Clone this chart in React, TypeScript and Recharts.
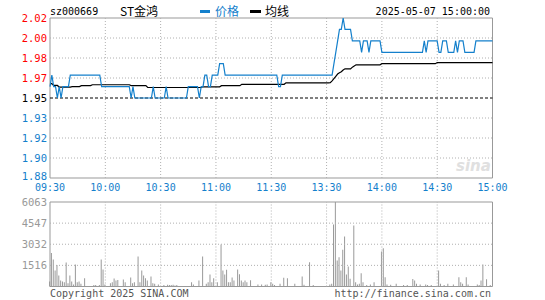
import React from 'react';
import { LineChart, Line, XAxis, YAxis, ReferenceLine, ReferenceArea, BarChart, Bar } from 'recharts';

const BLUE = '#1480cc';
const RED = '#ff0000';
const GRID = '#b0b0b0';
const FRAME = '#999999';
const MONO = 'DejaVu Sans Mono';
const CJK = 'Noto Sans CJK SC';

const stockCode = 'sz000669';
const stockName = 'ST金鸿';
const timeStamp = '2025-05-07 15:00:00';

const timeTicks = [0, 30, 60, 90, 120, 150, 180, 210, 240];
const timeLabels = ['09:30', '10:00', '10:30', '11:00', '11:30', '13:30', '14:00', '14:30', '15:00'];
const priceTicks = [1.88, 1.8975, 1.915, 1.9325, 1.95, 1.9675, 1.985, 2.0025, 2.02];
const priceLabels = ['1.88', '1.90', '1.92', '1.93', '1.95', '1.97', '1.98', '2.00', '2.02'];
const pctLabels = ['-3.59%', '-2.69%', '-1.79%', '-0.90%', '0.00%', '+0.90%', '+1.79%', '+2.69%', '+3.59%'];
const prevClose = 1.95;
const volTicks = [1516, 3032, 4547, 6063];
const volLabels = ['1516', '3032', '4547', '6063'];
const volMax = 6063;

const price: number[] = [
  1.96, 1.97, 1.96, 1.96, 1.95, 1.96, 1.95, 1.96, 1.96, 1.96,
  1.96, 1.97, 1.97, 1.97, 1.97, 1.97, 1.97, 1.97, 1.97, 1.97,
  1.97, 1.97, 1.97, 1.97, 1.97, 1.97, 1.97, 1.97, 1.96, 1.96,
  1.96, 1.96, 1.96, 1.96, 1.96, 1.96, 1.96, 1.96, 1.96, 1.96,
  1.96, 1.96, 1.96, 1.96, 1.95, 1.96, 1.95, 1.95, 1.95, 1.95,
  1.95, 1.95, 1.95, 1.95, 1.95, 1.95, 1.96, 1.95, 1.95, 1.95,
  1.95, 1.95, 1.95, 1.96, 1.95, 1.95, 1.95, 1.95, 1.95, 1.95,
  1.95, 1.95, 1.95, 1.95, 1.95, 1.96, 1.96, 1.96, 1.96, 1.96,
  1.96, 1.95, 1.96, 1.96, 1.97, 1.97, 1.96, 1.96, 1.97, 1.97,
  1.97, 1.97, 1.98, 1.98, 1.98, 1.97, 1.97, 1.97, 1.97, 1.97,
  1.97, 1.97, 1.97, 1.97, 1.97, 1.97, 1.97, 1.97, 1.97, 1.97,
  1.97, 1.97, 1.97, 1.97, 1.97, 1.97, 1.97, 1.97, 1.97, 1.97,
  1.97, 1.97, 1.97, 1.97, 1.96, 1.96, 1.97, 1.97, 1.97, 1.97,
  1.97, 1.97, 1.97, 1.97, 1.97, 1.97, 1.97, 1.97, 1.97, 1.97,
  1.97, 1.97, 1.97, 1.97, 1.97, 1.97, 1.97, 1.97, 1.97, 1.97,
  1.97, 1.97, 1.97, 1.97, 1.98, 1.99, 2.00, 2.01, 2.01, 2.02,
  2.01, 2.01, 2.01, 2.01, 2.00, 2.00, 2.00, 2.00, 2.00, 1.99,
  2.00, 2.00, 2.00, 1.99, 2.00, 2.00, 2.00, 2.00, 2.00, 2.00,
  1.99, 1.99, 1.99, 1.99, 1.99, 1.99, 1.99, 1.99, 1.99, 1.99,
  1.99, 1.99, 1.99, 1.99, 1.99, 1.99, 1.99, 1.99, 1.99, 1.99,
  1.99, 1.99, 1.99, 2.00, 1.99, 2.00, 2.00, 2.00, 2.00, 2.00,
  2.00, 1.99, 1.99, 2.00, 2.00, 2.00, 1.99, 1.99, 1.99, 1.99,
  2.00, 1.99, 2.00, 2.00, 2.00, 1.99, 1.99, 1.99, 1.99, 1.99,
  1.99, 2.00, 2.00, 2.00, 2.00, 2.00, 2.00, 2.00, 2.00, 2.00, 2.00,
];

const avgPrice: number[] = [
  1.9625, 1.9625, 1.961, 1.961, 1.961, 1.9596, 1.9596, 1.9596, 1.9596, 1.9596,
  1.9596, 1.9596, 1.96, 1.96, 1.96, 1.96, 1.96, 1.9608, 1.9608, 1.9608,
  1.9608, 1.9608, 1.9608, 1.9616, 1.9616, 1.9616, 1.9616, 1.9616, 1.9616, 1.9616,
  1.9616, 1.9616, 1.9616, 1.9616, 1.9616, 1.9616, 1.9616, 1.9616, 1.9616, 1.9616,
  1.9616, 1.9616, 1.9616, 1.9616, 1.9608, 1.9608, 1.9608, 1.9608, 1.9608, 1.9608,
  1.9608, 1.9608, 1.9608, 1.9592, 1.9592, 1.9592, 1.9592, 1.9592, 1.9592, 1.9592,
  1.9592, 1.9592, 1.9592, 1.9592, 1.9592, 1.9592, 1.9592, 1.9592, 1.9592, 1.9592,
  1.9592, 1.9592, 1.9592, 1.9592, 1.9592, 1.9592, 1.9592, 1.9592, 1.9592, 1.9592,
  1.9592, 1.9592, 1.9592, 1.9598, 1.9598, 1.9598, 1.9598, 1.9598, 1.9598, 1.9598,
  1.9598, 1.9598, 1.9598, 1.9608, 1.9608, 1.9608, 1.9608, 1.9608, 1.9608, 1.9608,
  1.9608, 1.9608, 1.9608, 1.9608, 1.962, 1.962, 1.962, 1.962, 1.962, 1.962,
  1.962, 1.962, 1.962, 1.962, 1.962, 1.962, 1.962, 1.962, 1.962, 1.962,
  1.962, 1.962, 1.962, 1.962, 1.962, 1.962, 1.962, 1.962, 1.9633, 1.9633,
  1.9633, 1.9633, 1.9633, 1.9633, 1.9633, 1.9633, 1.9633, 1.9633, 1.9633, 1.9633,
  1.9633, 1.9633, 1.9633, 1.9633, 1.9633, 1.9633, 1.9633, 1.9633, 1.9633, 1.9633,
  1.9633, 1.9633, 1.9635, 1.965, 1.967, 1.969, 1.971, 1.972, 1.973, 1.9745,
  1.9755, 1.9755, 1.9755, 1.9755, 1.977, 1.978, 1.979, 1.979, 1.979, 1.979,
  1.979, 1.979, 1.979, 1.979, 1.979, 1.979, 1.979, 1.979, 1.979, 1.979,
  1.98, 1.98, 1.98, 1.98, 1.98, 1.98, 1.98, 1.98, 1.98, 1.98,
  1.98, 1.98, 1.98, 1.98, 1.98, 1.98, 1.98, 1.98, 1.98, 1.98,
  1.98, 1.98, 1.98, 1.98, 1.98, 1.98, 1.98, 1.98, 1.98, 1.98,
  1.981, 1.981, 1.981, 1.981, 1.981, 1.981, 1.981, 1.981, 1.981, 1.981,
  1.981, 1.981, 1.981, 1.981, 1.981, 1.981, 1.981, 1.981, 1.981, 1.981,
  1.981, 1.981, 1.981, 1.981, 1.981, 1.981, 1.981, 1.981, 1.981, 1.981, 1.981,
];

const volume: number[] = [
  350, 2400, 1940, 1150, 1550, 790, 430, 360, 310, 1720,
  240, 790, 360, 150, 1570, 300, 350, 200, 0, 590,
  0, 0, 0, 0, 100, 100, 0, 100, 1940, 1220,
  150, 0, 0, 240, 300, 570, 430, 475, 0, 0,
  500, 300, 0, 0, 640, 240, 300, 0, 2150, 300,
  1150, 790, 600, 430, 0, 720, 240, 200, 0, 150,
  0, 0, 100, 0, 120, 100, 100, 120, 80, 100,
  0, 0, 0, 0, 0, 0, 0, 300, 150, 0,
  0, 430, 0, 2150, 0, 200, 300, 860, 300, 600,
  0, 300, 0, 3010, 1150, 860, 1200, 300, 300, 650,
  430, 0, 1220, 870, 430, 300, 430, 300, 0, 450,
  0, 0, 0, 150, 0, 150, 0, 120, 150, 0,
  300, 200, 100, 0, 0, 200, 0, 620, 0, 590,
  0, 0, 0, 200, 0, 0, 0, 720, 120, 0,
  0, 1740, 0, 100, 0, 0, 0, 0, 0, 0,
  0, 0, 150, 200, 4450, 6063, 1870, 2100, 1150, 2640,
  3590, 860, 1440, 550, 0, 4380, 300, 150, 200, 950,
  300, 0, 100, 0, 150, 0, 300, 0, 0, 0,
  2520, 2750, 660, 150, 0, 120, 0, 0, 200, 0,
  0, 0, 100, 0, 100, 0, 0, 530, 430, 200,
  0, 150, 0, 0, 150, 100, 0, 100, 0, 0,
  0, 1150, 200, 0, 100, 0, 200, 0, 0, 150,
  0, 0, 660, 300, 200, 0, 660, 150, 0, 0,
  0, 0, 150, 100, 430, 1570, 0, 520, 0, 100, 0,
];

const data = price.map((p, i) => ({ t: i, price: p, avg: avgPrice[i], vol: volume[i] }));
const innerTimes = timeTicks.slice(1, -1);
const innerPrices = priceTicks.filter((v, i) => i > 0 && i < priceTicks.length - 1 && v !== prevClose);

const tickColor = (i: number) => (i > 4 ? RED : i === 4 ? '#000000' : BLUE);

const LeftTick = (props: any) => {
  const { x, y, index } = props;
  const yy = index === 0 ? y - 1.5 : y;
  return (
    <text x={x} y={yy} dy="0.35em" textAnchor="end" fill={tickColor(index)} fontSize={10.5} fontFamily={MONO}>
      {priceLabels[index]}
    </text>
  );
};

const RightTick = (props: any) => {
  const { x, y, index } = props;
  const yy = index === 0 ? y - 1.5 : y;
  return (
    <text x={x} y={yy} dy="0.35em" textAnchor="start" fill={tickColor(index)} fontSize={10.5} fontFamily={MONO}>
      {pctLabels[index]}
    </text>
  );
};

const VolTick = (props: any) => {
  const { x, y, index } = props;
  return (
    <text x={x} y={y} dy="0.35em" textAnchor="end" fill="#999999" fontSize={10.5} fontFamily={MONO}>
      {volLabels[index]}
    </text>
  );
};

export default function App() {
  return (
    <div style={{ position: 'fixed', left: 0, top: 0, width: 545, height: 300, background: '#ffffff', overflow: 'hidden' }}>
      <div style={{ position: 'absolute', left: 0, top: 0 }}>
        <LineChart width={545} height={200} data={data} margin={{ top: 18, right: 0, bottom: 2, left: 0 }}>
          <XAxis
            dataKey="t"
            type="number"
            domain={[0, 240]}
            ticks={timeTicks}
            interval={0}
            tickFormatter={(v: number) => timeLabels[timeTicks.indexOf(v)]}
            axisLine={false}
            tickLine={false}
            tickSize={0}
            tickMargin={6}
            height={20}
            tick={{ fill: BLUE, fontSize: 10, fontFamily: MONO }}
          />
          <YAxis
            yAxisId="l"
            orientation="left"
            width={50}
            domain={[priceTicks[0], priceTicks[priceTicks.length - 1]]}
            ticks={priceTicks}
            interval={0}
            axisLine={false}
            tickLine={false}
            tickSize={0}
            tickMargin={3}
            tick={<LeftTick />}
          />
          <YAxis
            yAxisId="r"
            orientation="right"
            width={52.5}
            domain={[priceTicks[0], priceTicks[priceTicks.length - 1]]}
            ticks={priceTicks}
            interval={0}
            axisLine={false}
            tickLine={false}
            tickSize={0}
            tickMargin={3}
            tick={<RightTick />}
          />
          {innerTimes.map((t) => (
            <ReferenceLine key={'vx' + t} yAxisId="l" x={t} stroke={GRID} strokeDasharray="1 2" />
          ))}
          {innerPrices.map((v) => (
            <ReferenceLine key={'hy' + v} yAxisId="l" y={v} stroke={GRID} strokeDasharray="1 2" />
          ))}
          <ReferenceLine yAxisId="l" y={prevClose} stroke="#000000" strokeDasharray="3 2" />
          <ReferenceArea
            yAxisId="l"
            x1={0}
            x2={240}
            y1={priceTicks[0]}
            y2={priceTicks[priceTicks.length - 1]}
            fill="none"
            fillOpacity={0}
            stroke={FRAME}
            strokeOpacity={1}
          />
          <Line yAxisId="l" type="linear" dataKey="avg" stroke="#000000" strokeWidth={1.2} dot={false} isAnimationActive={false} />
          <Line yAxisId="l" type="linear" dataKey="price" stroke={BLUE} strokeWidth={1.2} dot={false} isAnimationActive={false} />
        </LineChart>
      </div>
      <div style={{ position: 'absolute', left: 0, top: 190 }}>
        <BarChart width={545} height={110} data={data} margin={{ top: 12, right: 52.5, bottom: 13.5, left: 0 }}>
          <XAxis dataKey="t" type="number" domain={[0, 240]} ticks={timeTicks} hide />
          <YAxis
            width={50}
            domain={[0, volMax]}
            ticks={volTicks}
            interval={0}
            axisLine={false}
            tickLine={false}
            tickSize={0}
            tickMargin={3}
            tick={<VolTick />}
          />
          {innerTimes.map((t) => (
            <ReferenceLine key={'vvx' + t} x={t} stroke={GRID} strokeDasharray="1 2" />
          ))}
          {volTicks.slice(0, -1).map((v) => (
            <ReferenceLine key={'vhy' + v} y={v} stroke={GRID} strokeDasharray="1 2" />
          ))}
          <ReferenceArea x1={0} x2={240} y1={0} y2={volMax} fill="none" fillOpacity={0} stroke={FRAME} strokeOpacity={1} />
          <Bar dataKey="vol" fill="#999999" barSize={1} isAnimationActive={false} />
        </BarChart>
      </div>
      <svg width={545} height={300} style={{ position: 'absolute', left: 0, top: 0, pointerEvents: 'none' }}>
        <text x={50} y={15} fontSize={10} fontFamily={MONO} fill="#000000">{stockCode}</text>
        <text x={120} y={16} fontSize={12} fontFamily={CJK} fill="#000000">{stockName}</text>
        <rect x={200} y={10} width={10} height={3} fill={BLUE} />
        <text x={215} y={16} fontSize={12} fontFamily={CJK} fill={BLUE}>价格</text>
        <rect x={250} y={10} width={11} height={3} fill="#000000" />
        <text x={265} y={16} fontSize={12} fontFamily={CJK} fill="#000000">均线</text>
        <text x={490} y={15} fontSize={10} fontFamily={MONO} fill="#000000" textAnchor="end">{timeStamp}</text>
        <text x={456} y={171} fontSize={15} fontFamily="DejaVu Sans" fontStyle="italic" fontWeight="bold" fill="#e0e0e0">sina</text>
        <text x={50} y={297} fontSize={10} fontFamily={MONO} fill="#555555">Copyright 2025 SINA.COM</text>
        <text x={491} y={297} fontSize={10} fontFamily={MONO} fill="#555555" textAnchor="end">http://finance.sina.com.cn</text>
      </svg>
    </div>
  );
}
